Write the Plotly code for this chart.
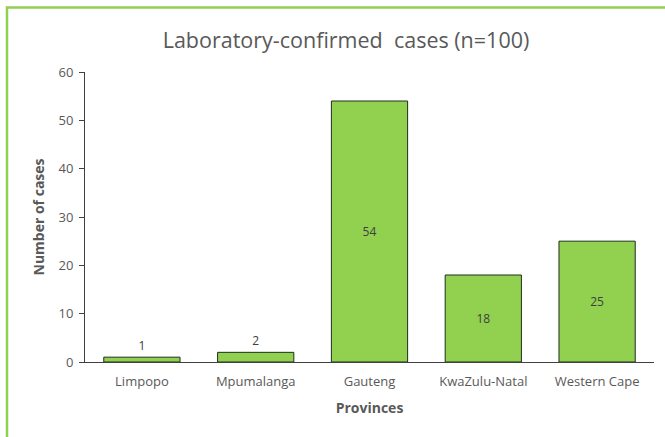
import plotly.graph_objects as go

provinces = ["Limpopo", "Mpumalanga", "Gauteng", "KwaZulu-Natal", "Western Cape"]
cases = [1, 2, 54, 18, 25]
text_pos = ["outside", "outside", "inside", "inside", "inside"]
y_ticks = [0, 10, 20, 30, 40, 50, 60]

label_font = dict(family="Open Sans, sans-serif", size=12, color="#404040")

fig = go.Figure()
fig.add_trace(go.Bar(
    x=provinces, y=cases, text=[str(v) for v in cases],
    textposition=text_pos, insidetextanchor="middle",
    textfont=label_font, outsidetextfont=label_font, insidetextfont=label_font,
    marker=dict(color="#92D050", line=dict(color="#1e2e1e", width=1)),
    cliponaxis=False, hoverinfo="skip",
))

L, R, T, B = 85, 11, 72, 75
W, H = 665, 437
pw, ph = W - L - R, H - T - B

def px_x(p):
    return (p - L) / pw

def px_y(p):
    return (H - B - p) / ph

fig.add_shape(type="rect", xref="paper", yref="paper",
              x0=px_x(7), x1=px_x(700), y0=px_y(470), y1=px_y(7.5),
              line=dict(color="#92D050", width=2.5), fillcolor="rgba(0,0,0,0)", layer="below")

fig.update_layout(
    width=W, height=H,
    margin=dict(l=L, r=R, t=T, b=B),
    paper_bgcolor="white", plot_bgcolor="white",
    showlegend=False,
    bargap=0.33,
    title=dict(text="Laboratory-confirmed  cases (n=100)", x=346 / W, xanchor="center",
               y=1 - 40 / H, yanchor="middle",
               font=dict(family="Open Sans, sans-serif", size=21.5, color="#595959")),
    font=dict(family="Open Sans, sans-serif", size=12, color="#595959"),
    xaxis=dict(showline=True, linecolor="#404040", linewidth=1, ticks="",
               ticklabelstandoff=7,
               tickfont=dict(size=13, color="#595959"),
               title=dict(text="<b>Provinces</b>", font=dict(size=14, color="#595959"), standoff=14),
               showgrid=False),
    yaxis=dict(range=[0, 60], tickvals=y_ticks, showline=True, linecolor="#404040", linewidth=1,
               ticks="outside", ticklen=5, tickcolor="#404040", ticklabelstandoff=3,
               tickfont=dict(size=13, color="#595959"),
               title=dict(text="<b>Number of cases</b>", font=dict(size=14, color="#595959"), standoff=10),
               showgrid=False, zeroline=False),
)

fig.write_html("out.html", config={"displayModeBar": False},
               post_script="document.body.style.margin='0';")
